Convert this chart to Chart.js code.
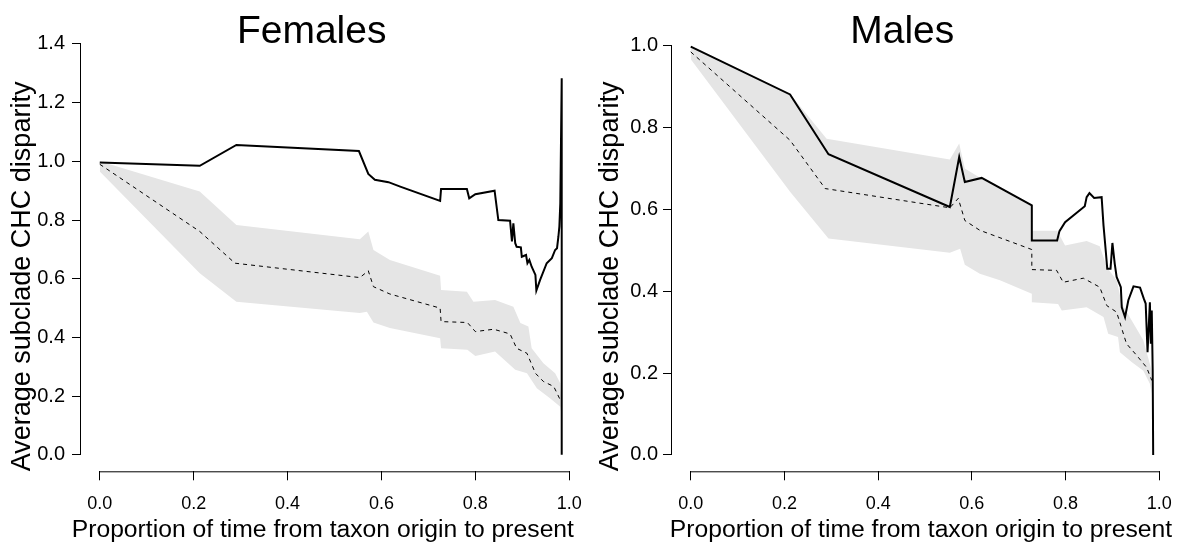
<!DOCTYPE html>
<html>
<head>
<meta charset="utf-8">
<script src="https://cdn.jsdelivr.net/npm/chart.js@4.4.1/dist/chart.umd.min.js"></script>
<style>
  html, body { margin: 0; padding: 0; background: #fff; overflow: hidden; }
  #wrap { position: relative; width: 1177px; height: 544px; }
  .panel { position: absolute; top: 0; height: 544px; }
  #panel-f { left: 0; width: 588px; }
  #panel-m { left: 588px; width: 590px; }
</style>
</head>
<body>
<div id="wrap">
  <div class="panel" id="panel-f"><canvas id="chart-f"></canvas></div>
  <div class="panel" id="panel-m"><canvas id="chart-m"></canvas></div>
</div>
<script>
// ---- Females ----
var femObsX = [0, 0.213, 0.291, 0.552, 0.572, 0.586, 0.615, 0.640, 0.725, 0.727, 0.782, 0.787, 0.800, 0.841, 0.849, 0.874, 0.878, 0.881, 0.885, 0.888, 0.897, 0.899, 0.908, 0.911, 0.915, 0.920, 0.928, 0.930, 0.938, 0.952, 0.963, 0.970, 0.974, 0.977, 0.979, 0.981, 0.984, 0.984];
var femObsY = [0.996, 0.985, 1.056, 1.035, 0.957, 0.937, 0.929, 0.914, 0.865, 0.906, 0.906, 0.874, 0.888, 0.900, 0.800, 0.798, 0.727, 0.789, 0.721, 0.709, 0.707, 0.675, 0.681, 0.653, 0.664, 0.641, 0.613, 0.560, 0.596, 0.653, 0.670, 0.698, 0.704, 0.744, 0.778, 0.857, 1.283, 0.0];

var femExpX = [0, 0.213, 0.288, 0.554, 0.572, 0.583, 0.618, 0.725, 0.727, 0.783, 0.800, 0.839, 0.874, 0.888, 0.910, 0.928, 0.945, 0.967, 0.981];
var femExpY = [0.99, 0.761, 0.653, 0.604, 0.627, 0.573, 0.548, 0.500, 0.454, 0.451, 0.420, 0.428, 0.412, 0.363, 0.346, 0.278, 0.250, 0.233, 0.187];

var femHiX = [0, 0.213, 0.291, 0.554, 0.572, 0.583, 0.618, 0.725, 0.727, 0.782, 0.796, 0.842, 0.881, 0.896, 0.913, 0.920, 0.945, 0.970, 0.981, 0.983];
var femHiY = [1.0, 0.897, 0.783, 0.735, 0.761, 0.698, 0.664, 0.610, 0.562, 0.556, 0.522, 0.528, 0.505, 0.449, 0.437, 0.363, 0.312, 0.278, 0.244, 0.187];
var femLoX = [0, 0.213, 0.291, 0.554, 0.569, 0.583, 0.618, 0.725, 0.727, 0.783, 0.800, 0.842, 0.885, 0.910, 0.931, 0.959, 0.981, 0.984];
var femLoY = [0.965, 0.619, 0.522, 0.483, 0.488, 0.451, 0.432, 0.397, 0.363, 0.358, 0.337, 0.352, 0.290, 0.278, 0.227, 0.193, 0.164, 0.130];

// ---- Males ----
var malObsX = [0, 0.212, 0.294, 0.553, 0.573, 0.585, 0.621, 0.728, 0.728, 0.782, 0.787, 0.799, 0.841, 0.845, 0.851, 0.861, 0.877, 0.881, 0.886, 0.889, 0.896, 0.900, 0.905, 0.909, 0.918, 0.920, 0.927, 0.934, 0.945, 0.959, 0.967, 0.971, 0.975, 0.980, 0.982, 0.984, 0.986, 0.987];
var malObsY = [0.998, 0.881, 0.735, 0.606, 0.728, 0.667, 0.677, 0.610, 0.524, 0.524, 0.547, 0.569, 0.608, 0.630, 0.640, 0.628, 0.630, 0.561, 0.496, 0.455, 0.455, 0.518, 0.467, 0.435, 0.410, 0.361, 0.337, 0.378, 0.412, 0.409, 0.382, 0.370, 0.251, 0.373, 0.272, 0.353, 0.206, 0.0];

var malExpX = [0, 0.212, 0.287, 0.553, 0.571, 0.585, 0.617, 0.728, 0.728, 0.781, 0.795, 0.838, 0.873, 0.888, 0.909, 0.930, 0.952, 0.973, 0.984];
var malExpY = [0.985, 0.769, 0.651, 0.604, 0.627, 0.573, 0.549, 0.502, 0.453, 0.451, 0.422, 0.432, 0.410, 0.365, 0.349, 0.272, 0.243, 0.214, 0.182];

var malHiX = [0, 0.212, 0.290, 0.553, 0.573, 0.585, 0.621, 0.728, 0.728, 0.782, 0.799, 0.845, 0.873, 0.888, 0.909, 0.920, 0.945, 0.966, 0.984];
var malHiY = [1.0, 0.882, 0.773, 0.722, 0.761, 0.700, 0.675, 0.607, 0.548, 0.548, 0.512, 0.523, 0.510, 0.459, 0.427, 0.370, 0.321, 0.280, 0.206];
var malLoX = [0, 0.212, 0.294, 0.553, 0.575, 0.585, 0.617, 0.660, 0.728, 0.728, 0.784, 0.792, 0.845, 0.881, 0.891, 0.912, 0.916, 0.941, 0.966, 0.980, 0.984];
var malLoY = [0.967, 0.643, 0.529, 0.494, 0.504, 0.465, 0.443, 0.427, 0.394, 0.373, 0.369, 0.353, 0.361, 0.337, 0.296, 0.288, 0.251, 0.227, 0.206, 0.174, 0.149];

var xTicks = [0, 0.2, 0.4, 0.6, 0.8, 1.0];
var xLabel = 'Proportion of time from taxon origin to present';
var yLabel = 'Average subclade CHC disparity';
var FONT = '"Liberation Sans", Arial, sans-serif';

function pts(xs, ys) {
    return xs.map(function(x, i) { return {x: x, y: ys[i]}; });
}

// R style axes: lines only from first to last tick, the panel title and the x label
var rAxes = {
    id: 'rAxes',
    afterDraw: function(chart, args, opts) {
        var ctx = chart.ctx, a = chart.chartArea;
        var xs = chart.scales.x, ys = chart.scales.y;
        var yTop = ys.ticks[ys.ticks.length - 1].value;
        ctx.save();
        ctx.strokeStyle = '#000';
        ctx.lineWidth = 1;
        ctx.beginPath();
        ctx.moveTo(xs.getPixelForValue(xTicks[0]), a.bottom + 0.5);
        ctx.lineTo(xs.getPixelForValue(xTicks[xTicks.length - 1]), a.bottom + 0.5);
        ctx.moveTo(a.left - 0.5, ys.getPixelForValue(0));
        ctx.lineTo(a.left - 0.5, ys.getPixelForValue(yTop));
        ctx.stroke();
        ctx.fillStyle = '#000';
        ctx.textAlign = 'center';
        ctx.textBaseline = 'alphabetic';
        ctx.font = '39px ' + FONT;
        ctx.fillText(opts.title, a.left + a.width * 0.455, 43);
        ctx.font = '24.7px ' + FONT;
        ctx.fillText(xLabel, a.left + a.width * opts.xLabelPos, 537);
        ctx.restore();
    }
};

function makePanel(id, title, obs, exp, hi, lo, yMax, topPad, yAxisWidth, labelPad, xLabelPos) {
    new Chart(document.getElementById(id).getContext("2d"), {
        type: 'scatter',
        data: {
            datasets: [{
                label: 'upper',
                data: hi,
                showLine: true,
                borderWidth: 0,
                borderColor: 'rgba(0,0,0,0)',
                backgroundColor: '#e5e5e5',
                fill: '+1',
                pointRadius: 0,
                order: 3
            }, {
                label: 'lower',
                data: lo,
                showLine: true,
                borderWidth: 0,
                borderColor: 'rgba(0,0,0,0)',
                fill: false,
                pointRadius: 0,
                order: 4
            }, {
                label: 'expected',
                data: exp,
                showLine: true,
                borderColor: '#000',
                borderWidth: 1,
                borderDash: [4, 4],
                fill: false,
                pointRadius: 0,
                order: 2
            }, {
                label: 'observed',
                data: obs,
                showLine: true,
                borderColor: '#000',
                borderWidth: 2,
                fill: false,
                pointRadius: 0,
                order: 1
            }]
        },
        options: {
            responsive: true,
            maintainAspectRatio: false,
            animation: false,
            layout: { padding: { top: topPad, left: 0, right: 0, bottom: 0 } },
            plugins: {
                legend: { display: false },
                tooltip: { enabled: false },
                rAxes: { title: title, xLabelPos: xLabelPos }
            },
            scales: {
                x: {
                    type: 'linear',
                    min: -0.04,
                    max: 1.04,
                    afterFit: function(s) {
                        s.height = 72.7;
                        s.paddingLeft = 0;
                        s.paddingRight = 0;
                    },
                    border: { display: false },
                    grid: { drawOnChartArea: false, drawTicks: true, tickLength: 9, tickColor: '#000' },
                    ticks: {
                        stepSize: 0.2,
                        includeBounds: false,
                        padding: 13,
                        color: '#000',
                        font: { family: FONT, size: 18 },
                        maxRotation: 0,
                        callback: function(v) { return v.toFixed(1); }
                    }
                },
                y: {
                    type: 'linear',
                    min: -yMax * 0.04,
                    max: yMax * 1.04,
                    afterFit: function(s) {
                        s.width = yAxisWidth;
                        s.paddingTop = 0;
                        s.paddingBottom = 0;
                    },
                    border: { display: false },
                    grid: { drawOnChartArea: false, drawTicks: true, tickLength: 9, tickColor: '#000' },
                    ticks: {
                        stepSize: 0.2,
                        includeBounds: false,
                        padding: labelPad,
                        color: '#000',
                        font: { family: FONT, size: 20 },
                        callback: function(v) { return v.toFixed(1); }
                    },
                    title: {
                        display: true,
                        align: 'start',
                        text: yLabel,
                        color: '#000',
                        font: { family: FONT, size: 27 },
                        padding: { top: 6, bottom: 0 }
                    }
                }
            }
        },
        plugins: [rAxes]
    });
}

makePanel("chart-f", "Females", pts(femObsX, femObsY), pts(femExpX, femExpY),
    pts(femHiX, femHiY), pts(femLoX, femLoY), 1.4, 27.5, 81, 7, 0.477);
makePanel("chart-m", "Males", pts(malObsX, malObsY), pts(malExpX, malExpY),
    pts(malHiX, malHiY), pts(malLoX, malLoY), 1.0, 29.4, 84, 5, 0.492);
</script>
</body>
</html>
